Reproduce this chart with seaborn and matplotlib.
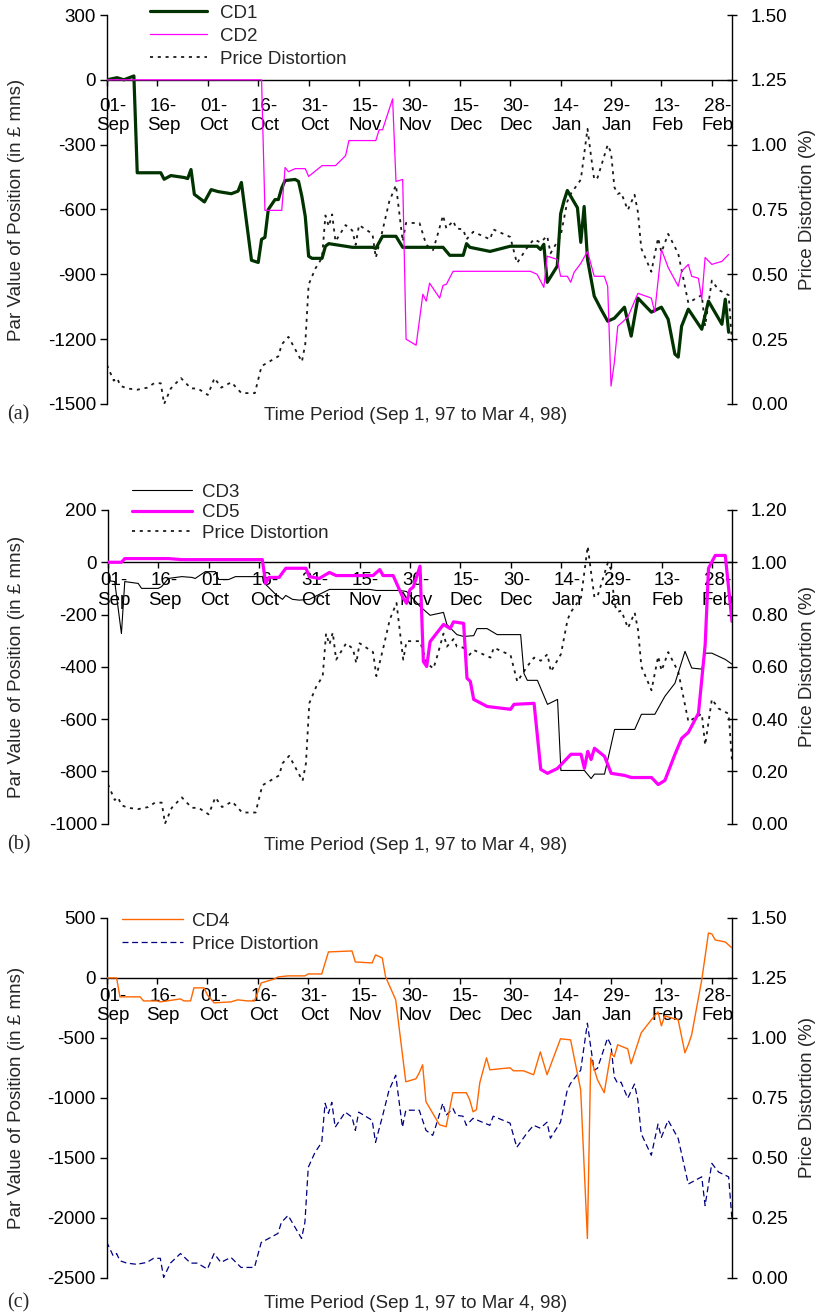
import numpy as np
import pandas as pd
import matplotlib
matplotlib.use("Agg")
import matplotlib.pyplot as plt
import matplotlib.transforms as mtransforms
import seaborn as sns

sns.set_theme(style="white")
plt.rcParams["font.family"] = ["Liberation Sans", "DejaVu Sans"]
plt.rcParams["axes.unicode_minus"] = False
plt.rcParams["lines.scale_dashes"] = False

FS = 13.5
START = pd.Timestamp("1997-09-01")
END_DAY = 186

# ---- data: days since 1 Sep 1997, values ----
# price distortion (%), common to all three panels
pd_days = [0, 2, 3, 4, 6, 9, 12, 14, 16, 17, 19, 22, 25, 27, 30, 32, 34, 37, 40, 44,
           46, 51, 52, 54, 58, 59, 60, 62, 64, 65, 66, 67, 68, 71, 73, 74, 75, 79, 80, 82,
           84, 86, 88, 89, 93, 95, 97, 98, 100, 101, 103, 104, 106, 107, 109, 114, 115, 120, 122, 125,
           127, 129, 131, 132, 135, 137, 138, 141, 143, 144, 145, 146, 149, 150, 151, 152, 153, 155, 157, 158,
           159, 162, 164, 165, 167, 170, 173, 177, 178, 180, 182, 185, 186]
pd_vals = [0.15, 0.09, 0.10, 0.07, 0.06, 0.055, 0.063, 0.08, 0.08, 0.0, 0.06, 0.10, 0.06, 0.06, 0.035, 0.10, 0.063, 0.084, 0.042, 0.042,
           0.146, 0.184, 0.23, 0.259, 0.163, 0.23, 0.46, 0.522, 0.564, 0.727, 0.685, 0.731, 0.627, 0.69, 0.669, 0.614, 0.69, 0.656, 0.564, 0.669,
           0.781, 0.844, 0.627, 0.698, 0.698, 0.614, 0.593, 0.635, 0.727, 0.677, 0.706, 0.677, 0.673, 0.635, 0.664, 0.635, 0.673, 0.644, 0.543, 0.602,
           0.635, 0.623, 0.648, 0.581, 0.648, 0.781, 0.81, 0.865, 1.061, 0.961, 0.865, 0.873, 0.999, 0.970, 0.836, 0.81, 0.815, 0.748, 0.807, 0.74,
           0.60, 0.51, 0.64, 0.585, 0.656, 0.58, 0.39, 0.42, 0.30, 0.476, 0.44, 0.42, 0.24]

cd1_days = [0, 3, 5, 8, 9, 16, 17, 19, 23, 24, 25, 26, 29, 31, 33, 37, 39, 40, 43, 45,
            46, 47, 48, 50, 51, 52, 53, 56, 57, 58, 59, 60, 61, 64, 65, 66, 71, 73, 79, 80,
            82, 86, 88, 100, 102, 106, 107, 108, 114, 120, 128, 129, 130, 131, 134, 135, 136, 137, 140, 141,
            142, 143, 145, 147, 149, 151, 154, 156, 158, 162, 165, 167, 169, 170, 171, 173, 177, 179, 183, 184, 185]
cd1_vals = [0, 10, 0, 18, -430, -430, -460, -443, -452, -457, -415, -530, -565, -508, -517, -527, -515, -475, -835, -845,
            -738, -729, -600, -554, -554, -500, -466, -461, -470, -540, -632, -816, -826, -826, -770, -758, -770, -775, -775, -780,
            -724, -724, -775, -775, -812, -812, -758, -775, -794, -770, -770, -785, -761, -937, -862, -620, -560, -512, -592, -752,
            -586, -831, -1001, -1061, -1117, -1103, -1052, -1186, -1010, -1075, -1052, -1108, -1269, -1283, -1140, -1061, -1154, -1024, -1131, -1015, -1168]

cd2_days = [0, 46, 47, 52, 53, 54, 56, 59, 60, 64, 68, 71, 72, 80, 81, 82, 85, 86, 88, 89,
            92, 94, 95, 96, 99, 100, 101, 103, 126, 128, 130, 131, 134, 135, 137, 138, 139, 141, 143, 145,
            148, 149, 150, 151, 152, 155, 158, 162, 163, 165, 167, 170, 171, 173, 174, 176, 177, 178, 180, 183, 185]
cd2_vals = [0, 0, -604, -604, -406, -425, -411, -411, -447, -397, -397, -351, -281, -281, -231, -231, -88, -470, -461, -1200,
            -1228, -992, -1024, -941, -1010, -951, -946, -886, -886, -900, -960, -816, -831, -909, -909, -937, -891, -849, -794, -909,
            -909, -955, -1417, -1306, -1140, -1098, -988, -1010, -1075, -785, -868, -955, -886, -854, -909, -918, -1015, -822, -854, -840, -808]

cd3_days = [0, 2, 4, 5, 9, 10, 15, 16, 18, 22, 25, 26, 29, 32, 33, 36, 38, 46, 47, 50,
            52, 53, 55, 57, 60, 66, 78, 80, 87, 89, 93, 96, 100, 101, 104, 106, 109, 110, 113, 116,
            123, 124, 125, 128, 131, 134, 135, 142, 144, 145, 148, 151, 157, 159, 163, 166, 169, 172, 174, 177,
            178, 180, 184, 186]
cd3_vals = [-70, -74, -273, -74, -81, -100, -100, -93, -62, -55, -58, -62, -36, -36, -66, -66, -55, -55, -85, -123,
            -142, -127, -142, -145, -142, -104, -104, -108, -108, -112, -169, -203, -192, -238, -277, -284, -281, -254, -254, -277,
            -277, -426, -452, -452, -544, -525, -797, -797, -828, -811, -811, -640, -640, -582, -582, -513, -463, -341, -405, -409,
            -348, -348, -372, -390]

cd5_days = [0, 4, 5, 18, 22, 46, 47, 48, 51, 53, 59, 60, 63, 66, 68, 79, 81, 82, 85, 88,
            89, 90, 91, 93, 94, 95, 96, 100, 102, 103, 106, 107, 108, 109, 113, 120, 121, 127, 129, 131,
            134, 138, 141, 142, 143, 144, 145, 148, 150, 154, 156, 162, 164, 166, 169, 171, 173, 176, 178, 179,
            181, 184, 186]
cd5_vals = [0, 0, 14, 14, 10, 10, -81, -58, -58, -23, -23, -55, -62, -39, -51, -51, -28, -51, -51, -138,
            -157, -105, -95, -15, -380, -399, -304, -238, -254, -228, -234, -444, -456, -525, -552, -563, -544, -540, -793, -808,
            -789, -735, -735, -789, -724, -755, -712, -743, -808, -816, -824, -824, -851, -835, -735, -674, -651, -578, -316, -23,
            26, 26, -227]

cd4_days = [0, 3, 4, 10, 11, 15, 16, 18, 22, 23, 25, 26, 29, 30, 32, 37, 39, 42, 44, 46,
            50, 51, 54, 59, 60, 64, 66, 73, 74, 79, 80, 82, 83, 86, 89, 92, 93, 94, 95, 99,
            101, 103, 107, 108, 109, 110, 111, 113, 114, 120, 121, 124, 127, 129, 131, 135, 138, 141, 143, 144,
            146, 148, 150, 151, 152, 155, 156, 159, 162, 164, 165, 166, 170, 172, 173, 174, 177, 179, 180, 181,
            184, 186]
cd4_vals = [0, 0, -158, -158, -192, -192, -200, -192, -175, -192, -192, -83, -83, -142, -208, -200, -183, -192, -192, -42,
            -8, 8, 17, 17, 33, 33, 217, 225, 133, 125, 192, 167, 8, -183, -867, -842, -792, -725, -1033, -1225,
            -1242, -958, -958, -1017, -1117, -1100, -875, -667, -767, -750, -775, -775, -808, -617, -808, -508, -517, -933, -2175, -667,
            -850, -958, -625, -658, -558, -592, -717, -458, -350, -283, -400, -317, -350, -625, -558, -475, -17, 375, 367, 317,
            300, 250]

tick_days = list(range(0, 181, 15))


def dates(days):
    return START + pd.to_timedelta(np.asarray(days, dtype=float), unit="D")


W, H = 818, 1315
fig = plt.figure(figsize=(W / 100, H / 100), dpi=100)


def rect(l, t, r, b):
    return [l / W, 1 - b / H, (r - l) / W, (b - t) / H]


def line(ax, days, vals, **kw):
    sns.lineplot(x=dates(days), y=vals, ax=ax, estimator=None, sort=False,
                 legend=False, **kw)
    return ax.lines[-1]


def panel(box, ylim, ystep, y2lim, y2step, series, pd_style, leg_xy, leg_kw,
          tag, tag_y, title_y, xpad):
    ax = fig.add_axes(rect(*box))
    ax2 = ax.twinx()
    ax.set_zorder(ax2.get_zorder() + 1)
    ax.patch.set_visible(False)

    handles = []
    for days, vals, color, lw, name in series:
        h = line(ax, days, vals, color=color, linewidth=lw, zorder=3)
        h.set_label(name)
        handles.append(h)
    hpd = line(ax2, pd_days, pd_vals, **pd_style)
    hpd.set_label("Price Distortion")
    handles.append(hpd)

    xmin, xmax = START, START + pd.Timedelta(days=END_DAY)
    ax.set_xlim(xmin, xmax)
    ax.set_ylim(*ylim)
    yt = np.arange(ylim[0], ylim[1] + 1, ystep)
    ax.set_yticks(yt)
    ax.set_yticklabels([f"{v:d}" for v in yt])
    ax2.set_ylim(*y2lim)
    yt2 = np.arange(y2lim[0], y2lim[1] + 1e-9, y2step)
    ax2.set_yticks(yt2)
    ax2.set_yticklabels([f"{v:.2f}" for v in yt2])

    tdates = dates(tick_days)
    ax.set_xticks(tdates)
    ax.set_xticklabels([d.strftime("%d-\n%b") for d in tdates], linespacing=1.25)
    ax.set_xlabel("")
    ax.set_ylabel("")
    ax2.set_ylabel("")

    for s in ["top", "right"]:
        ax.spines[s].set_visible(False)
    ax.spines["bottom"].set_position(("data", 0))
    for s in ["top", "left", "bottom"]:
        ax2.spines[s].set_visible(False)
    for sp in list(ax.spines.values()) + list(ax2.spines.values()):
        sp.set_color("black")
        sp.set_linewidth(1.0)

    ax.tick_params(axis="y", direction="out", length=5, width=1, pad=3,
                   labelsize=FS, colors="black", left=True)
    ax.tick_params(axis="x", direction="out", length=4, width=1, pad=xpad,
                   labelsize=FS, colors="black", bottom=True)
    ax2.tick_params(axis="y", direction="inout", length=7, width=1, pad=10,
                    labelsize=FS, colors="black", right=True)

    shift = mtransforms.ScaledTranslation(6 / 100, 0, fig.dpi_scale_trans)
    for t in ax.xaxis.get_major_ticks():
        t.label1.set_transform(t.label1.get_transform() + shift)

    fig.legend(handles=handles, loc="upper left",
               bbox_to_anchor=(leg_xy[0] / W, 1 - leg_xy[1] / H),
               frameon=False, fontsize=FS, borderpad=0, borderaxespad=0,
               **leg_kw)

    l, t, r, b = box
    fig.text(17 / W, 1 - (t + b) / 2 / H, "Par Value of Position (in £ mns)",
             rotation=90, ha="center", va="center", fontsize=FS)
    fig.text(808 / W, 1 - (t + b) / 2 / H, "Price Distortion (%)",
             rotation=90, ha="center", va="center", fontsize=FS)
    fig.text(416 / W, 1 - title_y / H, "Time Period (Sep 1, 97 to Mar 4, 98)",
             ha="center", va="center", fontsize=FS)
    fig.text(7 / W, 1 - tag_y / H, tag, ha="left", va="center", fontsize=14.5,
             family=["Liberation Serif", "DejaVu Serif"])
    return ax, ax2


dotted = dict(color="#1a1a1a", linewidth=1.3, linestyle=(0, (2.2, 3.4)))
navy = dict(color="#000080", linewidth=0.9, linestyle=(0, (4.3, 2.6)))

panel((107, 15, 732, 404), (-1500, 300), 300, (0, 1.5), 0.25,
      [(cd1_days, cd1_vals, "#003300", 2.3, "CD1"),
       (cd2_days, cd2_vals, "#ff00ff", 0.9, "CD2")],
      dotted, (150, 4.5), dict(handlelength=3.04, handletextpad=0.69, labelspacing=0.31),
      "(a)", 415, 416, 9)

panel((108, 510, 732, 823.5), (-1000, 200), 200, (0, 1.2), 0.2,
      [(cd3_days, cd3_vals, "#000000", 0.8, "CD3"),
       (cd5_days, cd5_vals, "#ff00ff", 2.3, "CD5")],
      dotted, (132, 483.5), dict(handlelength=3.2, handletextpad=0.53, labelspacing=0.18),
      "(b)", 845, 846, 3)

panel((106.5, 918, 732, 1277.5), (-2500, 500), 500, (0, 1.5), 0.25,
      [(cd4_days, cd4_vals, "#ff6600", 1.0, "CD4")],
      navy, (122, 912.5), dict(handlelength=3.25, handletextpad=0.48, labelspacing=0.31),
      "(c)", 1303, 1303, 3)

fig.savefig("out.png", dpi=100)
